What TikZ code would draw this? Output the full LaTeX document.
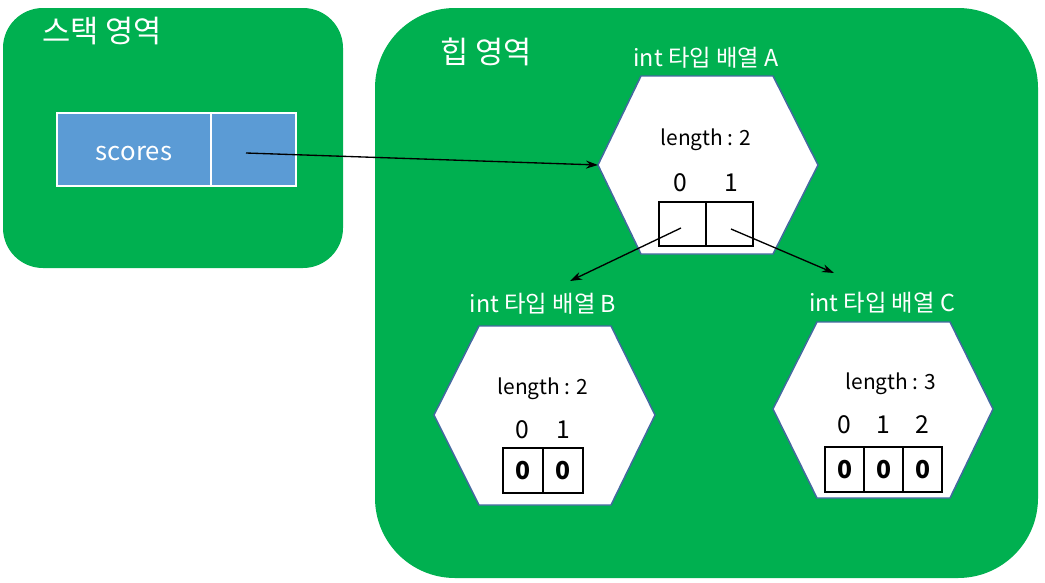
\documentclass[tikz,border=0pt]{standalone}
\usepackage{fontspec}
\setmainfont{Noto Sans CJK KR}
\usetikzlibrary{arrows.meta}
\definecolor{grn}{RGB}{0,176,80}
\definecolor{cellblue}{RGB}{91,155,213}
\definecolor{hexline}{RGB}{68,104,160}
\tikzset{
  region/.style={fill=grn,draw=none},
  hexa/.style={fill=white,draw=hexline,line width=1.1pt,line join=miter},
  ttl/.style={text=white,font=\fontsize{17.5}{19}\selectfont,inner sep=0pt},
  bigttl/.style={text=white,font=\fontsize{23}{25}\selectfont,inner sep=0pt},
  lbl/.style={text=black,font=\fontsize{15.7}{17}\selectfont,inner sep=0pt},
  idx/.style={text=black,font=\fontsize{18.5}{20}\selectfont,inner sep=0pt},
  cell/.style={draw=black,line width=0.9pt,fill=white,inner sep=0pt,font=\bfseries\fontsize{18.5}{20}\selectfont},
  scell/.style={draw=white,line width=1.2pt,fill=cellblue,inner sep=0pt,text=white,font=\fontsize{19.3}{21}\selectfont},
  ptr/.style={line width=1pt,-{Stealth[length=9pt,width=6pt]}}
}
\begin{document}
\begin{tikzpicture}[x=0.75pt,y=-0.75pt]
\useasboundingbox (0,0) rectangle (1045,582);
% regions
\fill[region,rounded corners=30pt] (3,8) rectangle (343,268);
\fill[region,rounded corners=60pt] (375,8) rectangle (1038,578);
\node[bigttl,anchor=west] (stackt) at (42,31) {스택 영역};
\node[bigttl,anchor=west] (heapt) at (440,52) {힙 영역};
% scores
\node[scell,minimum width=154*0.75pt,minimum height=73*0.75pt] (sname) at (134,149.5) {};
\node[text=white,font=\fontsize{19.3}{21}\selectfont,inner sep=0pt] (stxt) at (134,153) {scores};
\node[scell,minimum width=85*0.75pt,minimum height=73*0.75pt] (sval) at (253.5,149.5) {};
\coordinate (sdot) at (246,153);
% hexagon A
\draw[hexa] (598,165) coordinate (hAl) -- (641,76) -- (773,76) -- (818,165) -- (773,254) -- (641,254) -- cycle;
\node[ttl] (tA) at (706,58) {int 타입 배열 A};
\node[lbl] (lA) at (706,140) {length : 2};
\node[idx] (iA0) at (680,183) {0};
\node[idx] (iA1) at (731,183) {1};
\node[cell,minimum width=47*0.75pt,minimum height=44*0.75pt] (cA0) at (682.5,224) {};
\node[cell,minimum width=47*0.75pt,minimum height=44*0.75pt] (cA1) at (729.5,224) {};
\coordinate (pA0) at (681,228);
\coordinate (pA1) at (731,229);
% hexagon B
\draw[hexa] (434,415) -- (479,326) coordinate (hBt) -- (611,326) -- (655,415) -- (611,505) -- (479,505) -- cycle;
\node[ttl] (tB) at (543,304) {int 타입 배열 B};
\node[lbl] (lB) at (543,389) {length : 2};
\node[idx] (iB0) at (522,430) {0};
\node[idx] (iB1) at (563,430) {1};
\node[cell,minimum width=40*0.75pt,minimum height=45*0.75pt] (cB0) at (523,470.5) {0};
\node[cell,minimum width=40*0.75pt,minimum height=45*0.75pt] (cB1) at (563,470.5) {0};
\coordinate (eB) at (570,281);
% hexagon C
\draw[hexa] (773,409) -- (817,322) -- (950,322) -- (993,409) -- (950,498) -- (817,498) -- cycle;
\node[ttl] (tC) at (882,303) {int 타입 배열 C};
\node[lbl] (lC) at (891,384) {length : 3};
\node[idx] (iC0) at (844,425) {0};
\node[idx] (iC1) at (883,425) {1};
\node[idx] (iC2) at (922,425) {2};
\node[cell,minimum width=39*0.75pt,minimum height=45*0.75pt] (cC0) at (844.5,469.5) {0};
\node[cell,minimum width=39*0.75pt,minimum height=45*0.75pt] (cC1) at (883.5,469.5) {0};
\node[cell,minimum width=39*0.75pt,minimum height=45*0.75pt] (cC2) at (922.5,469.5) {0};
\coordinate (eC) at (834,273);
% pointers
\draw[ptr] (sdot) -- (hAl);
\draw[ptr] (pA0) -- (eB);
\draw[ptr] (pA1) -- (eC);
\end{tikzpicture}
\end{document}
